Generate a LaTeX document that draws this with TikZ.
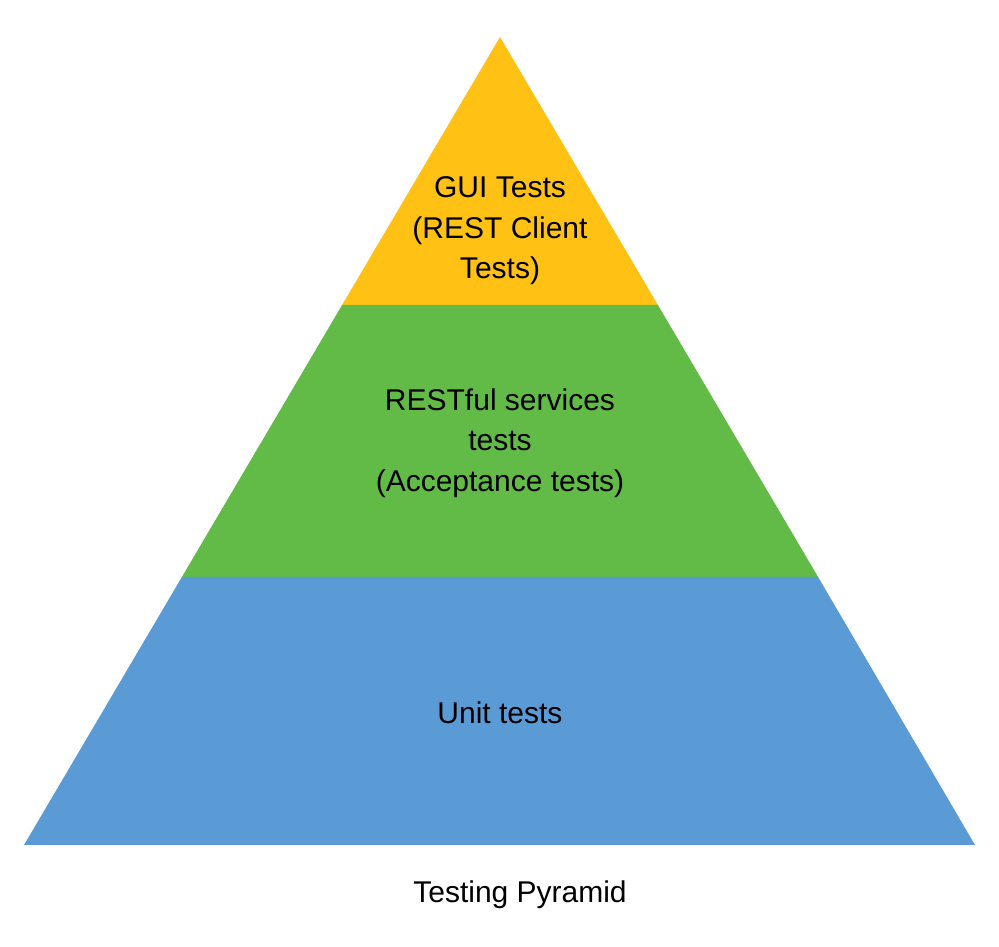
\documentclass[tikz,border=0pt]{standalone}
\usepackage{fontspec}
\setmainfont{Liberation Sans}
\definecolor{pyel}{HTML}{FFC113}
\definecolor{pgrn}{HTML}{63BB47}
\definecolor{pblu}{HTML}{5B9BD5}
\begin{document}
\begin{tikzpicture}[x=1pt,y=1pt,
  lbl/.style={align=center,font=\fontsize{30}{40.5}\selectfont,text=black,inner sep=0pt}]
\useasboundingbox (0,0) rectangle (999,947);
\coordinate (apex) at (500,910);
\coordinate (bl) at (24,102);
\coordinate (br) at (975,102);
\coordinate (yl) at (342.1,642);
\coordinate (yr) at (657.9,642);
\coordinate (gl) at (181.9,370);
\coordinate (gr) at (818.1,370);
\fill[pyel] (apex) -- (yr) -- (yl) -- cycle;
\fill[pgrn] (yl) -- (yr) -- (gr) -- (gl) -- cycle;
\fill[pblu] (gl) -- (gr) -- (br) -- (bl) -- cycle;
\node[lbl] (gui) at (500,716) {GUI Tests\\(REST Client\\Tests)};
\node[lbl] (rest) at (500,504) {RESTful services\\tests\\(Acceptance tests)};
\node[lbl] (unit) at (500,234) {Unit tests};
\node[lbl] (title) at (520,52) {Testing Pyramid};
\end{tikzpicture}
\end{document}
